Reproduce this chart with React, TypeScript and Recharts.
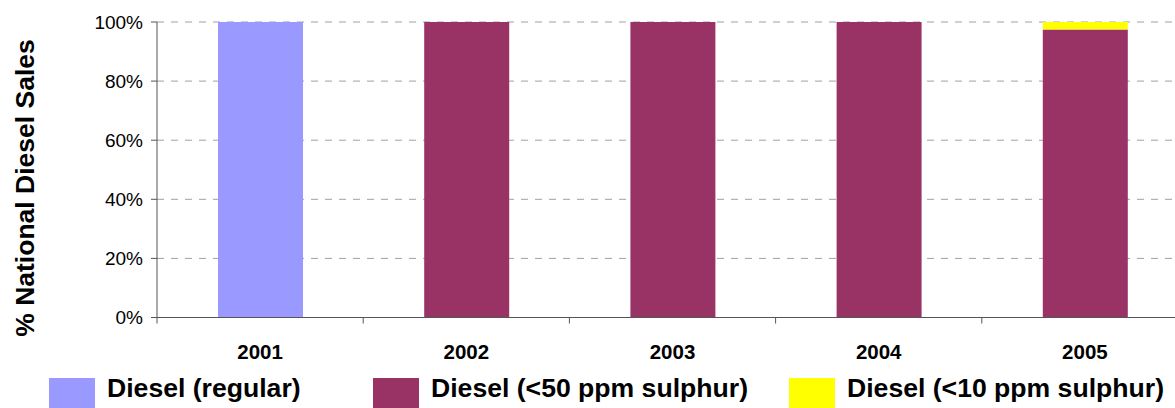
import React from 'react';
import { BarChart, Bar, XAxis, YAxis, CartesianGrid, Label } from 'recharts';

const categories = ['2001', '2002', '2003', '2004', '2005'];
const regularShare = [100, 0, 0, 0, 0];
const ppm50Share = [0, 100, 100, 100, 97.5];
const ppm10Share = [0, 0, 0, 0, 2.5];
const yTicks = [0, 20, 40, 60, 80, 100];
const seriesKeys = ['regular', 'ppm50', 'ppm10'];
const seriesNames = ['Diesel (regular)', 'Diesel (<50 ppm sulphur)', 'Diesel (<10 ppm sulphur)'];
const seriesColors = ['#9999FF', '#993366', '#FFFF00'];
const yTitle = '% National Diesel Sales';

const data = categories.map((c, i) => ({
  year: c,
  regular: regularShare[i],
  ppm50: ppm50Share[i],
  ppm10: ppm10Share[i],
}));

const FONT = '"Liberation Sans", Arial, sans-serif';
const CHART_W = 1200;
const CHART_H = 408;
const Y_AXIS_W = 157;
const RIGHT_M = 12;
const PLOT_W = CHART_W - Y_AXIS_W - RIGHT_M;
const HALF_BAND = PLOT_W / categories.length / 2;
const LEGEND_X = [49, 373, 789];

const XTick = (props: any) => {
  const { x, y, payload } = props;
  return (
    <g>
      <line x1={x - HALF_BAND} x2={x - HALF_BAND} y1={y} y2={y + 6} stroke="#555" strokeWidth={1} />
      <text x={x} y={y + 41} textAnchor="middle" fontSize={20.5} fontWeight="bold" fill="#000" fontFamily={FONT}>
        {payload.value}
      </text>
    </g>
  );
};

export default function App() {
  return (
    <div
      style={{
        position: 'absolute',
        left: 0,
        top: 0,
        width: 1175,
        height: 408,
        overflow: 'hidden',
        background: '#fff',
        fontFamily: FONT,
      }}
    >
      <BarChart
        width={CHART_W}
        height={CHART_H}
        data={data}
        margin={{ top: 22, right: RIGHT_M, left: 0, bottom: 0 }}
      >
        <CartesianGrid vertical={false} strokeDasharray="7 7" stroke="#a0a0a0" />
        <XAxis
          dataKey="year"
          height={90.5}
          axisLine={{ stroke: '#555' }}
          tickLine={false}
          tickSize={0}
          tickMargin={0}
          tick={<XTick />}
          interval={0}
        />
        <YAxis
          width={Y_AXIS_W}
          domain={[0, 100]}
          ticks={yTicks}
          allowDataOverflow
          tickFormatter={(v: number) => `${v}%`}
          axisLine={{ stroke: '#555' }}
          tickLine={{ stroke: '#555' }}
          tickSize={6}
          tickMargin={8}
          tick={{ fontSize: 19, fill: '#000', fontFamily: FONT }}
        >
          <Label
            content={() => (
              <text
                x={34}
                y={188}
                transform="rotate(-90 34 188)"
                textAnchor="middle"
                fontSize={26.5}
                fontWeight="bold"
                fill="#000"
                fontFamily={FONT}
              >
                {yTitle}
              </text>
            )}
          />
        </YAxis>
        {seriesKeys.map((k, i) => (
          <Bar
            key={k}
            dataKey={k}
            name={seriesNames[i]}
            stackId="a"
            fill={seriesColors[i]}
            barSize={85}
            isAnimationActive={false}
          />
        ))}
      </BarChart>
      {seriesNames.map((n, i) => (
        <div
          key={n}
          style={{ position: 'absolute', left: LEGEND_X[i], top: 375, display: 'flex', alignItems: 'flex-start' }}
        >
          <div style={{ width: 46, height: 32, marginTop: 3, background: seriesColors[i] }} />
          <div
            style={{
              marginLeft: 12,
              fontSize: 26.6,
              lineHeight: '26px',
              fontWeight: 'bold',
              color: '#000',
              whiteSpace: 'nowrap',
            }}
          >
            {n}
          </div>
        </div>
      ))}
    </div>
  );
}
